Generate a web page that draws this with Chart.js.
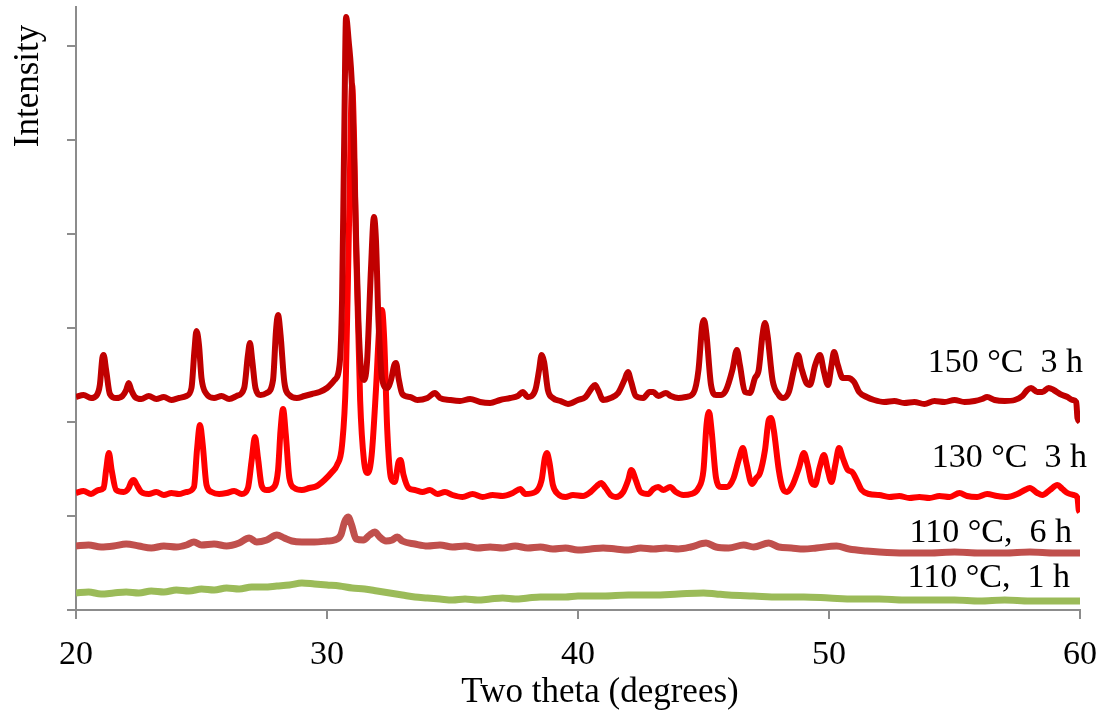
<!DOCTYPE html>
<html>
<head>
<meta charset="utf-8">
<script src="https://cdn.jsdelivr.net/npm/chart.js@4.4.1/dist/chart.umd.min.js"></script>
<style>
  html, body { margin: 0; padding: 0; background: #fff; }
  #wrap { width: 1103px; height: 717px; position: relative; }
</style>
</head>
<body>
<div id="wrap"><canvas id="c"></canvas></div>
<script>
// ---- Data (two theta in degrees, intensity in arbitrary units) ----
const xTicks = [20, 30, 40, 50, 60];
const seriesNames = ['150 °C  3 h', '130 °C  3 h', '110 °C,  6 h', '110 °C,  1 h'];

const s150 = [[20.0,213],[20.3,215],[20.6,212],[20.8,214],[20.95,225],[21.05,252],[21.1,255],[21.2,240],[21.35,216],[21.6,212],[21.85,214],[22.0,220],[22.1,227],[22.2,220],[22.35,213],[22.6,211],[22.9,214],[23.2,211],[23.5,213],[23.8,210],[24.1,212],[24.4,214],[24.6,222],[24.72,260],[24.8,279],[24.9,265],[25.0,232],[25.2,216],[25.5,212],[25.8,214],[26.1,211],[26.4,214],[26.7,222],[26.85,255],[26.93,267],[27.02,250],[27.15,222],[27.35,215],[27.6,217],[27.85,230],[27.97,280],[28.05,295],[28.15,275],[28.3,228],[28.5,215],[28.8,212],[29.1,214],[29.4,216],[29.7,218],[30.0,222],[30.2,227],[30.3,230],[30.5,245],[30.6,310],[30.68,460],[30.76,593],[30.86,570],[31.0,520],[31.12,410],[31.25,290],[31.38,235],[31.48,230],[31.6,250],[31.75,340],[31.87,393],[31.95,370],[32.05,290],[32.2,230],[32.4,222],[32.55,230],[32.68,245],[32.75,247],[32.85,232],[33.0,216],[33.3,213],[33.6,210],[34.0,212],[34.3,217],[34.5,212],[34.9,210],[35.3,209],[35.7,211],[36.1,208],[36.5,207],[36.9,210],[37.3,212],[37.6,214],[37.8,218],[38.0,213],[38.3,220],[38.45,240],[38.55,255],[38.65,248],[38.8,220],[39.0,212],[39.3,209],[39.6,206],[40.0,210],[40.3,213],[40.55,222],[40.68,225],[40.8,220],[41.0,210],[41.3,212],[41.6,217],[41.85,230],[41.99,238],[42.12,228],[42.3,214],[42.6,212],[42.85,218],[43.0,218],[43.2,214],[43.5,217],[43.7,214],[44.0,212],[44.3,213],[44.6,217],[44.8,240],[44.95,285],[45.02,290],[45.12,275],[45.3,225],[45.5,215],[45.7,215],[45.9,220],[46.15,240],[46.33,260],[46.45,245],[46.65,218],[46.85,217],[47.05,232],[47.2,240],[47.35,275],[47.45,287],[47.55,275],[47.75,230],[48.0,215],[48.17,212],[48.4,218],[48.6,240],[48.77,255],[48.9,242],[49.1,227],[49.24,225],[49.45,245],[49.64,255],[49.8,238],[49.96,225],[50.1,245],[50.2,258],[50.35,245],[50.55,232],[50.76,232],[51.0,228],[51.2,218],[51.5,213],[51.8,210],[52.2,208],[52.6,209],[53.0,207],[53.4,208],[53.8,206],[54.2,209],[54.6,208],[55.0,210],[55.4,208],[55.8,209],[56.1,211],[56.3,213],[56.6,210],[57.0,209],[57.4,210],[57.7,214],[57.9,220],[58.05,222],[58.3,218],[58.5,218],[58.75,222],[58.95,220],[59.2,216],[59.5,213],[59.7,210],[59.85,208],[59.9,192],[60.0,188]];

const s130 = [[20.0,117],[20.3,119],[20.6,116],[20.9,120],[21.1,122],[21.2,140],[21.31,157],[21.42,140],[21.6,120],[21.9,118],[22.1,122],[22.2,128],[22.3,130],[22.4,126],[22.6,118],[22.9,116],[23.2,118],[23.5,115],[23.8,117],[24.1,116],[24.4,118],[24.7,123],[24.82,160],[24.94,185],[25.05,165],[25.2,125],[25.4,118],[25.7,116],[26.0,117],[26.3,119],[26.6,116],[26.85,122],[27.0,150],[27.13,173],[27.25,152],[27.4,124],[27.6,120],[27.85,122],[28.05,140],[28.15,180],[28.25,201],[28.36,175],[28.5,132],[28.7,122],[29.0,120],[29.3,122],[29.6,124],[29.9,130],[30.2,138],[30.4,145],[30.6,165],[30.75,230],[30.88,390],[31.0,525],[31.08,470],[31.16,360],[31.32,210],[31.47,150],[31.63,137],[31.78,155],[31.95,220],[32.1,290],[32.19,300],[32.28,270],[32.4,180],[32.55,132],[32.7,128],[32.85,148],[32.93,150],[33.05,135],[33.25,122],[33.5,120],[33.8,118],[34.1,120],[34.4,116],[34.7,118],[35.0,115],[35.4,113],[35.8,116],[36.2,113],[36.6,115],[37.0,114],[37.4,117],[37.7,121],[37.9,116],[38.3,118],[38.55,130],[38.68,152],[38.76,157],[38.86,148],[39.0,125],[39.2,116],[39.5,113],[39.8,115],[40.2,114],[40.5,118],[40.75,124],[40.92,127],[41.1,122],[41.3,115],[41.5,113],[41.8,118],[42.0,130],[42.12,140],[42.19,138],[42.3,130],[42.5,118],[42.8,116],[43.0,121],[43.19,123],[43.4,120],[43.67,123],[43.9,118],[44.2,115],[44.5,116],[44.8,122],[45.0,140],[45.12,185],[45.22,198],[45.32,180],[45.5,132],[45.7,123],[45.94,123],[46.2,132],[46.4,150],[46.57,162],[46.7,148],[46.93,126],[47.1,132],[47.25,137],[47.45,160],[47.6,190],[47.69,192],[47.8,180],[48.0,140],[48.15,122],[48.33,118],[48.55,125],[48.8,142],[49.0,157],[49.15,145],[49.3,128],[49.44,125],[49.62,142],[49.8,155],[49.95,140],[50.1,128],[50.25,145],[50.4,162],[50.55,152],[50.75,140],[50.92,138],[51.1,130],[51.3,120],[51.6,116],[52.0,115],[52.4,113],[52.8,114],[53.2,112],[53.6,113],[54.0,112],[54.4,114],[54.8,113],[55.2,117],[55.5,114],[55.9,113],[56.3,116],[56.7,114],[57.1,113],[57.5,116],[57.8,120],[58.0,122],[58.3,117],[58.5,115],[58.8,120],[59.1,125],[59.3,121],[59.5,117],[59.75,115],[59.9,112],[59.95,100],[60.0,98]];

const s110h6 = [[20.0,64],[20.5,65],[21.0,63],[21.5,64],[22.0,66],[22.5,64],[23.0,62],[23.5,64],[24.0,63],[24.4,65],[24.7,68],[25.0,65],[25.5,66],[26.0,64],[26.5,67],[26.9,72],[27.2,68],[27.6,70],[28.0,75],[28.3,72],[28.6,69],[29.0,68],[29.5,68],[30.0,69],[30.3,70],[30.55,75],[30.7,88],[30.84,93],[30.98,85],[31.16,71],[31.45,70],[31.7,75],[31.9,78],[32.1,73],[32.35,69],[32.6,70],[32.8,73],[33.0,69],[33.5,66],[34.0,64],[34.5,65],[35.0,63],[35.5,64],[36.0,62],[36.5,63],[37.0,62],[37.5,64],[38.0,62],[38.5,63],[39.0,61],[39.5,62],[40.0,60],[40.5,61],[41.0,62],[41.5,61],[42.0,60],[42.5,62],[43.0,61],[43.5,62],[44.0,61],[44.5,63],[45.1,67],[45.5,63],[46.0,62],[46.6,65],[47.0,63],[47.6,67],[48.0,63],[48.5,62],[49.0,61],[49.5,62],[50.3,64],[50.8,61],[51.5,59],[52.0,58],[53.0,57],[54.0,57],[55.0,58],[56.0,57],[57.0,57],[58.0,58],[59.0,57],[60.0,57]];

const s110h1 = [[20.0,17],[20.5,18],[21.0,16],[21.5,17],[22.0,18],[22.5,17],[23.0,19],[23.5,18],[24.0,20],[24.5,19],[25.0,21],[25.5,20],[26.0,22],[26.5,21],[27.0,23],[27.5,23],[28.0,24],[28.5,25],[29.0,27],[29.5,26],[30.0,25],[30.5,24],[31.0,22],[31.5,21],[32.0,19],[32.5,17],[33.0,15],[33.5,13],[34.0,12],[34.5,11],[35.0,10],[35.5,11],[36.0,10],[36.5,11],[37.0,12],[37.5,11],[38.0,12],[38.5,13],[39.0,13],[39.5,13],[40.0,14],[41.0,14],[42.0,15],[43.0,15],[44.0,16],[45.0,17],[45.5,16],[46.0,15],[47.0,14],[48.0,13],[49.0,13],[50.0,12],[51.0,11],[52.0,11],[53.0,10],[54.0,10],[55.0,10],[56.0,9],[57.0,10],[58.0,9],[59.0,9],[60.0,9]];

const yMax = 603;      // top of the intensity axis
const yStep = 94;      // spacing of the unlabeled intensity ticks

// ---- Chart ----
const toXY = arr => arr.map(p => ({ x: p[0], y: p[1] }));
const FONT = '"Liberation Serif", "Times New Roman", serif';

const labelPlugin = {
  id: 'annot',
  afterDraw(chart) {
    const ctx = chart.ctx;
    ctx.save();
    ctx.fillStyle = '#000';
    ctx.font = '34px ' + FONT;
    ctx.textAlign = 'right';
    ctx.textBaseline = 'alphabetic';
    const pos = [[1083, 372], [1087, 467], [1072, 542], [1070, 587]];
    seriesNames.forEach((t, i) => ctx.fillText(t, pos[i][0], pos[i][1]));
    // axis titles
    ctx.font = '35px ' + FONT;
    ctx.textAlign = 'center';
    ctx.fillText('Two theta (degrees)', 600, 702);
    ctx.translate(38, 86);
    ctx.rotate(-Math.PI / 2);
    ctx.fillText('Intensity', 0, 0);
    ctx.restore();
  }
};

new Chart(document.getElementById('c'), {
  type: 'line',
  data: {
    datasets: [
      { label: seriesNames[0], data: toXY(s150), borderColor: '#C00000', order: 0 },
      { label: seriesNames[1], data: toXY(s130), borderColor: '#FF0000', order: 1 },
      { label: seriesNames[2], data: toXY(s110h6), borderColor: '#C0504D', borderWidth: 7, order: 2 },
      { label: seriesNames[3], data: toXY(s110h1), borderColor: '#9BBB59', borderWidth: 7, order: 3 }
    ]
  },
  options: {
    responsive: true,
    maintainAspectRatio: false,
    animation: false,
    layout: { padding: { left: 0, right: 23, top: 7, bottom: 0 } },
    elements: {
      point: { radius: 0 },
      line: { borderWidth: 6, cubicInterpolationMode: 'monotone', borderJoinStyle: 'round', borderCapStyle: 'butt', fill: false }
    },
    plugins: { legend: { display: false }, tooltip: { enabled: false } },
    scales: {
      x: {
        type: 'linear',
        min: 20, max: 60,
        afterBuildTicks: s => { s.ticks = xTicks.map(v => ({ value: v })); },
        afterFit: s => { s.height = 107; s.paddingLeft = 0; s.paddingRight = 0; },
        border: { display: true, color: '#8C8C8C', width: 2 },
        grid: { drawOnChartArea: false, drawTicks: true, tickLength: 9, color: '#8C8C8C', lineWidth: 2 },
        ticks: { color: '#000', font: { family: FONT, size: 34 }, padding: 16, maxRotation: 0 }
      },
      y: {
        type: 'linear',
        min: 0, max: yMax,
        afterBuildTicks: s => {
          const t = [];
          for (let v = 0; v <= yMax; v += yStep) t.push({ value: v });
          s.ticks = t;
        },
        afterFit: s => { s.width = 76; s.paddingTop = 0; s.paddingBottom = 0; },
        border: { display: true, color: '#8C8C8C', width: 2 },
        grid: { drawOnChartArea: false, drawTicks: true, tickLength: 9, color: '#8C8C8C', lineWidth: 2 },
        ticks: { callback: () => '', padding: 0 }
      }
    }
  },
  plugins: [labelPlugin]
});
</script>
</body>
</html>
